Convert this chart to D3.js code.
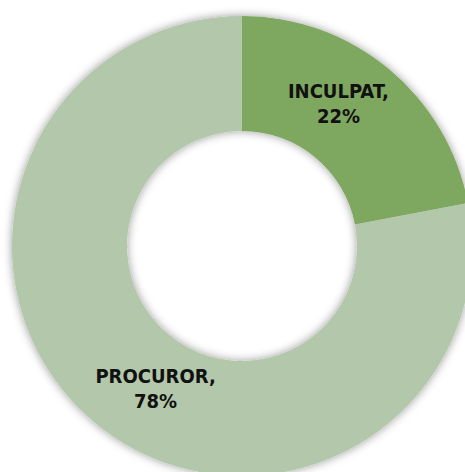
<!DOCTYPE html>
<html><head><meta charset="utf-8">
<script src="https://cdn.jsdelivr.net/npm/d3@7"></script>
<style>html,body{margin:0;padding:0;background:#fff;overflow:hidden}</style>
</head><body>
<svg id="chart" width="465" height="472"></svg>
<script>
const categories = ["INCULPAT", "PROCUROR"];
const values = [22, 78];
const colors = ["#7ea75e", "#b3c8aa"];

const svg = d3.select("#chart");
const defs = svg.append("defs");
const f = defs.append("filter").attr("id","shadow").attr("x","-20%").attr("y","-20%").attr("width","140%").attr("height","140%");
f.append("feGaussianBlur").attr("in","SourceAlpha").attr("stdDeviation",5).attr("result","b");
f.append("feFlood").attr("flood-color","#000").attr("flood-opacity",0.4).attr("result","c");
f.append("feComposite").attr("in","c").attr("in2","b").attr("operator","in").attr("result","s");
const m = f.append("feMerge");
m.append("feMergeNode").attr("in","s");
m.append("feMergeNode").attr("in","SourceGraphic");

const cx = 242, cy = 246, rOuter = 230, rInner = 115;
const g = svg.append("g").attr("transform",`translate(${cx},${cy})`);
const data = categories.map((c,i)=>({cat:c, val:values[i], color:colors[i]}));
const pie = d3.pie().value(d=>d.val).sort(null);
const arc = d3.arc().innerRadius(rInner).outerRadius(rOuter);
const arcs = pie(data);

g.append("g").attr("filter","url(#shadow)")
  .selectAll("path").data(arcs).join("path")
  .attr("d",arc).attr("fill",d=>d.data.color);

const total = d3.sum(values);
const angleShift = [-0.10, -0.14];
const labelR = [173, 165];
const lbl = g.selectAll("text.lbl").data(arcs).join("text").attr("class","lbl")
  .attr("transform",(d,i)=>{
    const a = (d.startAngle+d.endAngle)/2 + angleShift[i];
    const r = labelR[i];
    return `translate(${r*Math.sin(a)},${-r*Math.cos(a)})`;
  })
  .attr("text-anchor","middle")
  .style("font-family","'DejaVu Sans Condensed', 'DejaVu Sans', sans-serif")
  .style("font-stretch","condensed")
  .style("font-weight","bold")
  .style("font-size","20px")
  .attr("fill","#111");
lbl.append("tspan").attr("x",0).attr("dy","-0.2em").text(d=>d.data.cat+",");
lbl.append("tspan").attr("x",0).attr("dy","1.25em").text(d=>Math.round(d.data.val/total*100)+"%");
</script>
</body></html>
